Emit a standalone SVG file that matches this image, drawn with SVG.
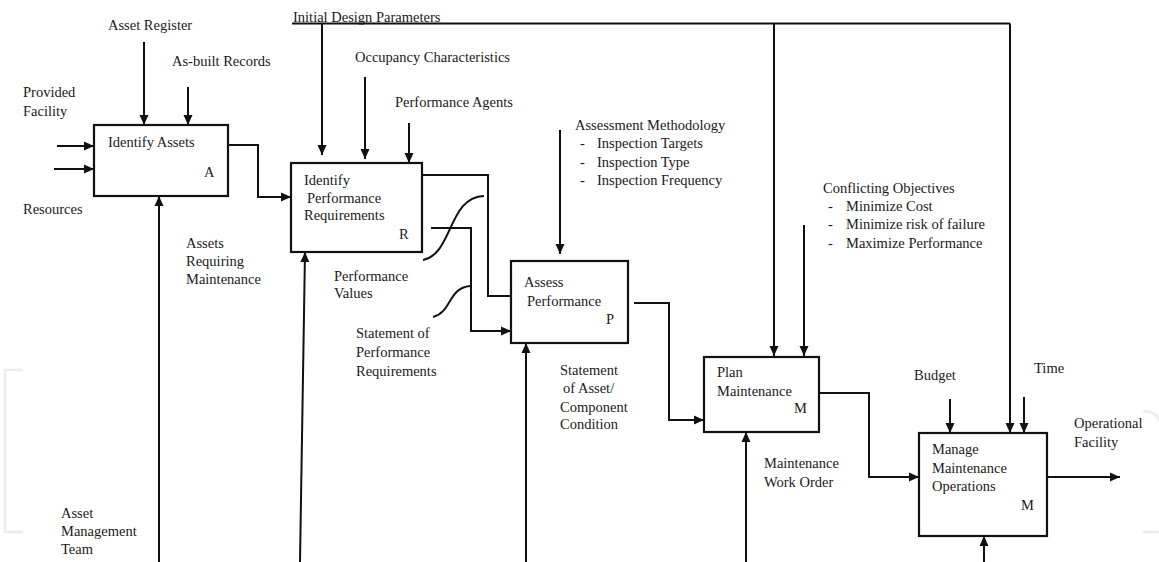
<svg xmlns="http://www.w3.org/2000/svg" width="1159" height="562" viewBox="0 0 1159 562">
<defs>
<marker id="ah" markerUnits="userSpaceOnUse" markerWidth="10" markerHeight="10" refX="10" refY="5" orient="auto">
<path d="M0,0.5 L10,5 L0,9.5 z" fill="#111"/>
</marker>
<style>
text{font-family:"Liberation Serif","Times New Roman",serif;font-size:14.5px;fill:#1a1a1a}
.box{fill:#fff;stroke:#111;stroke-width:2.2}
.ln{fill:none;stroke:#111;stroke-width:2}
.ar{fill:none;stroke:#111;stroke-width:2;marker-end:url(#ah)}
.wm{fill:none;stroke:#ebeced;stroke-width:2.5}
</style>
</defs>
<rect width="1159" height="562" fill="#fff"/>
<g id="watermark">
<path class="wm" d="M23,370 H5 V532 H23"/>
<path class="wm" d="M1143,411 Q1159,411 1162,428"/>
<path class="wm" d="M1143,532 H1159"/>
</g>
<g id="connectors">
<path class="ar" d="M144,42 V125"/>
<path class="ar" d="M188,87 V125"/>
<path class="ar" d="M57,146 H94"/>
<path class="ar" d="M54,169 H94"/>
<path class="ar" d="M159,562 V196"/>
<path class="ar" d="M228,145 H258 V197 H291"/>
<path class="ln" d="M292,23.5 H1010"/>
<path class="ar" d="M1010,23.5 V433"/>
<path class="ar" d="M774,23.5 V356"/>
<path class="ar" d="M322,23.5 V155"/>
<path class="ar" d="M365,77 V159"/>
<path class="ar" d="M409,123 V163"/>
<path class="ar" d="M300,562 L305,252"/>
<path class="ln" d="M422,175 H488 V296 H511"/>
<path class="ar" d="M431,228 H471 V331 H511"/>
<path class="ln" d="M423,260 C453,254 448,197 484,196"/>
<path class="ln" d="M433,317 C452,312 448,288 470,286"/>
<path class="ar" d="M560,130 V254"/>
<path class="ar" d="M526,562 V343"/>
<path class="ar" d="M634,303 H669 V420 H704"/>
<path class="ar" d="M804,225 V356"/>
<path class="ar" d="M746,562 V432"/>
<path class="ar" d="M819,393 H869 V477 H919"/>
<path class="ar" d="M950,399 V433"/>
<path class="ar" d="M1024,397 V433"/>
<path class="ar" d="M1047,477 H1120"/>
<path class="ar" d="M984,562 V536"/>
</g>
<g id="identify-assets">
<rect class="box" x="94" y="125" width="134" height="71"/>
<text x="108" y="147">Identify Assets</text>
<text x="204" y="177">A</text>
</g>
<g id="identify-performance-requirements">
<rect class="box" x="291" y="163" width="131" height="89"/>
<text x="304" y="185">Identify</text>
<text x="307" y="203">Performance</text>
<text x="304" y="220">Requirements</text>
<text x="399" y="239">R</text>
</g>
<g id="assess-performance">
<rect class="box" x="511" y="261" width="117" height="82"/>
<text x="524" y="287">Assess</text>
<text x="527" y="306">Performance</text>
<text x="606" y="324">P</text>
</g>
<g id="plan-maintenance">
<rect class="box" x="704" y="357" width="115" height="75"/>
<text x="717" y="377">Plan</text>
<text x="717" y="396">Maintenance</text>
<text x="794" y="413">M</text>
</g>
<g id="manage-maintenance-operations">
<rect class="box" x="919" y="433" width="128" height="103"/>
<text x="932" y="454">Manage</text>
<text x="932" y="473">Maintenance</text>
<text x="932" y="491">Operations</text>
<text x="1021" y="510">M</text>
</g>
<g id="labels">
<text x="108" y="30">Asset Register</text>
<text x="172" y="66">As-built Records</text>
<text x="23" y="97">Provided</text>
<text x="23" y="116">Facility</text>
<text x="23" y="214">Resources</text>
<text x="186" y="248">Assets</text>
<text x="186" y="266">Requiring</text>
<text x="186" y="284">Maintenance</text>
<text x="61" y="518">Asset</text>
<text x="61" y="536">Management</text>
<text x="61" y="554">Team</text>
<text x="293" y="22">Initial Design Parameters</text>
<text x="355" y="62">Occupancy Characteristics</text>
<text x="395" y="107">Performance Agents</text>
<text x="334" y="281">Performance</text>
<text x="334" y="298">Values</text>
<text x="356" y="338">Statement of</text>
<text x="356" y="357">Performance</text>
<text x="356" y="376">Requirements</text>
<text x="575" y="130">Assessment Methodology</text>
<text x="580" y="148">-</text><text x="597" y="148">Inspection Targets</text>
<text x="580" y="167">-</text><text x="597" y="167">Inspection Type</text>
<text x="580" y="185">-</text><text x="597" y="185">Inspection Frequency</text>
<text x="560" y="375">Statement</text>
<text x="563" y="393">of Asset/</text>
<text x="560" y="412">Component</text>
<text x="560" y="429">Condition</text>
<text x="823" y="193">Conflicting Objectives</text>
<text x="828" y="211">-</text><text x="846" y="211">Minimize Cost</text>
<text x="828" y="229">-</text><text x="846" y="229">Minimize risk of failure</text>
<text x="828" y="248">-</text><text x="846" y="248">Maximize Performance</text>
<text x="764" y="468">Maintenance</text>
<text x="764" y="487">Work Order</text>
<text x="914" y="380">Budget</text>
<text x="1034" y="373">Time</text>
<text x="1074" y="428">Operational</text>
<text x="1074" y="447">Facility</text>
</g>
</svg>
